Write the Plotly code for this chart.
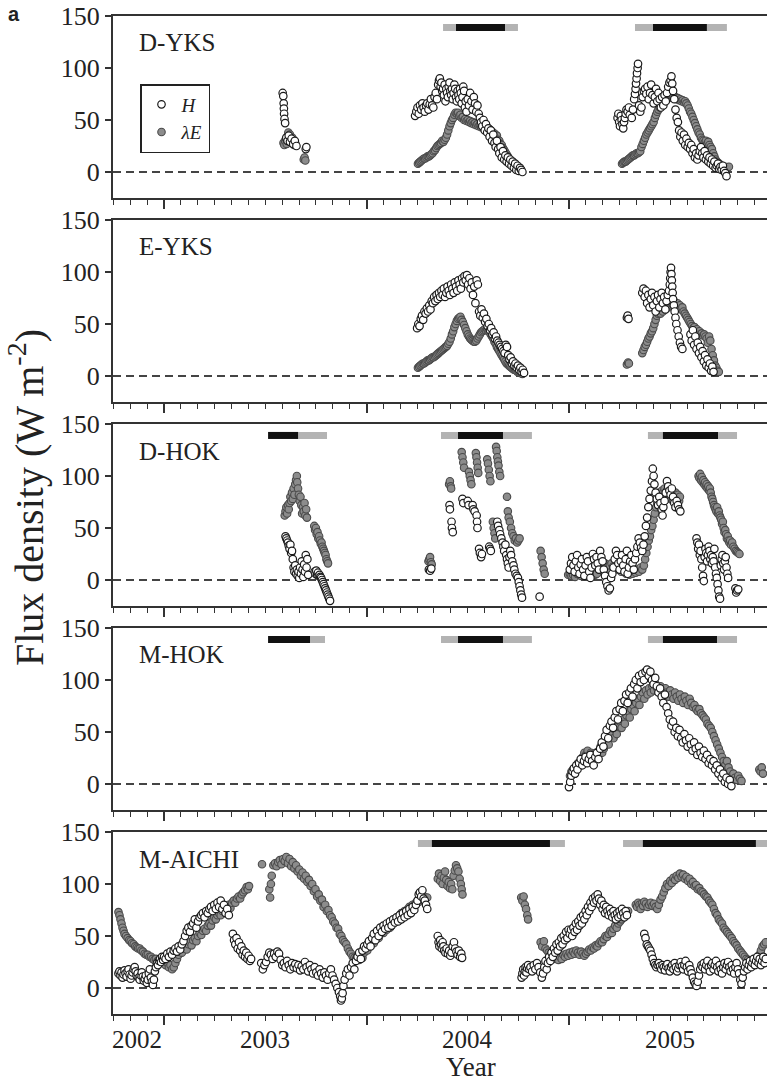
import plotly.graph_objects as go

# ------------------------------------------------------------------ data
PANELS = ["D-YKS", "E-YKS", "D-HOK", "M-HOK", "M-AICHI"]

DYKS_H = [
(2003.586,76),(2003.589,73),(2003.591,66),(2003.592,61),(2003.593,56),(2003.595,51),(2003.598,47),(2003.604,33),(2003.61,30),(2003.616,35),(2003.622,29),(2003.63,32),(2003.638,27),(2003.646,30),(2003.654,25),(2003.70,22),(2003.703,24),
(2004.24,54),(2004.246,58),(2004.252,62),(2004.258,56),(2004.264,64),(2004.27,60),(2004.276,66),(2004.282,62),(2004.288,58),(2004.294,64),(2004.30,66),(2004.306,60),(2004.312,65),(2004.318,70),(2004.324,64),(2004.33,62),(2004.336,72),(2004.342,76),(2004.348,70),(2004.354,84),(2004.358,88),(2004.362,90),(2004.366,82),(2004.37,86),(2004.374,78),(2004.378,80),(2004.382,74),(2004.386,84),(2004.39,68),(2004.394,80),(2004.398,76),(2004.402,72),(2004.406,82),(2004.41,86),(2004.414,78),(2004.418,74),(2004.422,80),(2004.426,70),(2004.43,76),(2004.434,84),(2004.438,80),(2004.442,72),(2004.446,68),(2004.45,78),(2004.454,74),(2004.458,70),(2004.462,80),(2004.466,76),(2004.47,66),(2004.474,72),(2004.478,82),(2004.482,78),(2004.486,62),(2004.49,68),(2004.494,58),(2004.50,70),(2004.506,64),(2004.512,76),(2004.518,68),(2004.524,60),(2004.53,72),(2004.536,66),(2004.542,58),(2004.548,64),(2004.554,56),(2004.56,52),(2004.566,48),(2004.572,44),(2004.578,50),(2004.584,40),(2004.59,46),(2004.596,38),(2004.602,42),(2004.608,34),(2004.614,40),(2004.62,30),(2004.626,36),(2004.632,28),(2004.638,24),(2004.644,30),(2004.65,22),(2004.656,18),(2004.662,24),(2004.668,14),(2004.674,20),(2004.68,12),(2004.686,16),(2004.692,10),(2004.698,14),(2004.704,8),(2004.71,12),(2004.716,6),(2004.722,10),(2004.728,4),(2004.734,8),(2004.74,2),(2004.746,6),(2004.752,1),(2004.758,4),(2004.764,2),(2004.77,0),
(2005.24,52),(2005.244,56),(2005.248,48),(2005.252,44),(2005.256,54),(2005.26,50),(2005.264,46),(2005.268,42),(2005.272,48),(2005.276,52),(2005.28,56),(2005.284,60),(2005.29,58),(2005.296,62),(2005.30,55),(2005.31,52),(2005.316,60),(2005.322,70),(2005.326,75),(2005.329,80),(2005.331,85),(2005.334,90),(2005.336,95),(2005.339,100),(2005.341,104),(2005.346,64),(2005.352,58),(2005.358,62),(2005.364,72),(2005.37,78),(2005.376,80),(2005.382,75),(2005.388,82),(2005.394,70),(2005.40,76),(2005.406,84),(2005.412,74),(2005.418,66),(2005.424,72),(2005.43,80),(2005.436,68),(2005.442,76),(2005.448,70),(2005.454,62),(2005.46,72),(2005.466,64),(2005.472,74),(2005.478,68),(2005.484,76),(2005.49,82),(2005.496,86),(2005.502,88),(2005.506,92),(2005.51,85),(2005.514,78),(2005.52,70),(2005.526,60),(2005.532,52),(2005.538,48),(2005.544,40),(2005.55,34),(2005.556,38),(2005.562,30),(2005.568,36),(2005.574,26),(2005.58,32),(2005.586,24),(2005.592,28),(2005.598,22),(2005.604,26),(2005.61,18),(2005.616,22),(2005.622,14),(2005.628,18),(2005.634,12),(2005.64,16),(2005.646,20),(2005.652,24),(2005.658,18),(2005.664,14),(2005.67,20),(2005.676,12),(2005.682,16),(2005.688,10),(2005.694,14),(2005.70,8),(2005.706,12),(2005.712,6),(2005.718,10),(2005.724,4),(2005.73,6),(2005.736,8),(2005.742,3),(2005.748,5),(2005.754,2),(2005.76,6),(2005.766,1),(2005.772,-1),(2005.778,-4),
]
DYKS_LE = [
(2003.59,28),(2003.594,26),(2003.598,30),(2003.602,32),(2003.606,27),(2003.61,34),(2003.614,38),(2003.618,33),(2003.622,36),(2003.626,30),(2003.63,28),(2003.634,33),(2003.638,30),(2003.642,26),(2003.646,29),(2003.65,27),(2003.69,12),(2003.694,14),(2003.698,11),
(2004.254,8),(2004.26,9),(2004.266,10),(2004.272,11),(2004.278,12),(2004.284,13),(2004.29,13),(2004.296,14),(2004.302,15),(2004.308,15),(2004.314,16),(2004.32,17),(2004.326,18),(2004.332,20),(2004.338,21),(2004.344,23),(2004.35,25),(2004.356,26),(2004.362,27),(2004.368,28),(2004.374,30),(2004.38,29),(2004.386,31),(2004.392,33),(2004.398,36),(2004.404,40),(2004.41,44),(2004.416,47),(2004.422,50),(2004.428,52),(2004.434,55),(2004.44,57),(2004.446,56),(2004.452,57),(2004.458,54),(2004.464,55),(2004.47,52),(2004.476,53),(2004.482,50),(2004.488,51),(2004.494,49),(2004.50,50),(2004.506,48),(2004.512,49),(2004.518,47),(2004.524,48),(2004.53,46),(2004.536,47),(2004.542,45),(2004.548,46),(2004.554,44),(2004.56,45),(2004.566,43),(2004.572,44),(2004.578,42),(2004.584,43),(2004.59,41),(2004.596,43),(2004.602,40),(2004.608,41),(2004.614,38),(2004.62,39),(2004.626,36),(2004.632,37),(2004.638,34),(2004.644,35),(2004.65,31),(2004.656,30),(2004.662,27),(2004.668,26),(2004.674,23),(2004.68,21),(2004.686,19),(2004.692,17),(2004.698,15),(2004.704,13),(2004.71,11),(2004.716,10),(2004.722,9),(2004.728,8),(2004.734,7),(2004.74,6),(2004.746,5),(2004.752,4),(2004.758,3),(2004.764,2),
(2005.262,8),(2005.268,9),(2005.274,10),(2005.28,10),(2005.286,11),(2005.292,12),(2005.298,13),(2005.304,14),(2005.31,15),(2005.316,16),(2005.322,16),(2005.328,17),(2005.334,18),(2005.34,18),(2005.346,19),(2005.352,20),(2005.358,24),(2005.364,27),(2005.37,30),(2005.376,33),(2005.382,36),(2005.388,38),(2005.394,40),(2005.40,42),(2005.406,44),(2005.412,46),(2005.418,48),(2005.424,52),(2005.43,55),(2005.436,58),(2005.442,60),(2005.448,62),(2005.454,64),(2005.46,65),(2005.466,67),(2005.472,68),(2005.478,70),(2005.484,70),(2005.49,71),(2005.496,72),(2005.502,72),(2005.508,73),(2005.514,72),(2005.52,71),(2005.526,72),(2005.532,70),(2005.538,71),(2005.544,69),(2005.55,70),(2005.556,68),(2005.562,69),(2005.568,67),(2005.574,68),(2005.58,66),(2005.586,64),(2005.592,61),(2005.598,58),(2005.604,56),(2005.61,53),(2005.616,50),(2005.622,47),(2005.628,44),(2005.634,41),(2005.64,38),(2005.646,36),(2005.652,33),(2005.658,31),(2005.664,30),(2005.67,28),(2005.676,30),(2005.682,27),(2005.688,29),(2005.694,26),(2005.70,24),(2005.706,22),(2005.712,18),(2005.718,15),(2005.724,12),(2005.73,10),(2005.736,9),(2005.742,8),(2005.748,7),(2005.754,6),(2005.76,5),(2005.766,4),(2005.772,5),(2005.778,3),(2005.784,4),(2005.79,5),
]

EYKS_H = [
(2004.25,46),(2004.256,50),(2004.262,48),(2004.268,55),(2004.274,58),(2004.28,54),(2004.286,62),(2004.292,60),(2004.298,65),(2004.304,62),(2004.31,68),(2004.316,64),(2004.322,72),(2004.328,70),(2004.334,76),(2004.34,72),(2004.346,78),(2004.352,74),(2004.358,80),(2004.364,76),(2004.37,82),(2004.376,78),(2004.382,84),(2004.388,76),(2004.394,80),(2004.40,86),(2004.406,82),(2004.412,78),(2004.418,88),(2004.424,84),(2004.43,80),(2004.436,90),(2004.442,86),(2004.448,82),(2004.454,92),(2004.46,88),(2004.466,84),(2004.472,94),(2004.478,90),(2004.484,96),(2004.49,92),(2004.496,97),(2004.502,88),(2004.508,94),(2004.514,84),(2004.52,90),(2004.526,78),(2004.532,86),(2004.538,70),(2004.544,92),(2004.55,88),(2004.556,62),(2004.562,58),(2004.568,64),(2004.574,56),(2004.58,60),(2004.586,52),(2004.592,55),(2004.598,48),(2004.604,50),(2004.61,44),(2004.616,46),(2004.622,40),(2004.628,42),(2004.634,36),(2004.64,38),(2004.646,34),(2004.652,32),(2004.658,30),(2004.664,28),(2004.67,26),(2004.676,24),(2004.682,22),(2004.688,30),(2004.694,28),(2004.70,20),(2004.706,16),(2004.712,18),(2004.718,12),(2004.724,14),(2004.73,10),(2004.736,12),(2004.742,8),(2004.748,10),(2004.754,6),(2004.76,8),(2004.766,4),(2004.772,6),(2004.778,3),
(2005.286,56),(2005.29,58),(2005.294,55),(2005.362,80),(2005.368,84),(2005.374,76),(2005.38,82),(2005.386,70),(2005.392,78),(2005.398,66),(2005.404,74),(2005.41,80),(2005.416,68),(2005.422,76),(2005.428,62),(2005.434,72),(2005.44,78),(2005.446,66),(2005.452,74),(2005.458,80),(2005.464,70),(2005.47,76),(2005.476,64),(2005.482,72),(2005.488,78),(2005.494,82),(2005.498,88),(2005.50,94),(2005.502,100),(2005.504,104),(2005.506,98),(2005.508,92),(2005.51,86),(2005.512,80),(2005.514,74),(2005.518,68),(2005.522,62),(2005.526,56),(2005.53,50),(2005.536,44),(2005.542,38),(2005.548,32),(2005.554,28),(2005.56,26),(2005.60,40),(2005.606,34),(2005.612,44),(2005.618,30),(2005.624,38),(2005.63,26),(2005.636,32),(2005.642,22),(2005.648,28),(2005.654,18),(2005.66,24),(2005.666,14),(2005.672,20),(2005.678,10),(2005.684,16),(2005.69,8),(2005.696,12),(2005.702,5),(2005.708,9),(2005.714,4),
]
EYKS_LE = [
(2004.254,8),(2004.26,9),(2004.266,10),(2004.272,11),(2004.278,12),(2004.284,12),(2004.29,13),(2004.296,14),(2004.302,15),(2004.308,15),(2004.314,16),(2004.32,17),(2004.326,18),(2004.332,18),(2004.338,19),(2004.344,20),(2004.35,21),(2004.356,22),(2004.362,23),(2004.368,24),(2004.374,25),(2004.38,26),(2004.386,27),(2004.392,28),(2004.398,29),(2004.404,31),(2004.41,33),(2004.416,36),(2004.422,40),(2004.428,43),(2004.434,47),(2004.44,50),(2004.446,53),(2004.452,55),(2004.458,56),(2004.464,57),(2004.47,54),(2004.476,52),(2004.482,49),(2004.488,46),(2004.494,43),(2004.50,40),(2004.506,38),(2004.512,36),(2004.518,35),(2004.524,34),(2004.53,33),(2004.536,33),(2004.542,34),(2004.548,36),(2004.554,38),(2004.56,40),(2004.566,42),(2004.572,43),(2004.578,44),(2004.584,45),(2004.59,44),(2004.596,45),(2004.602,43),(2004.608,42),(2004.614,40),(2004.62,38),(2004.626,36),(2004.632,33),(2004.638,31),(2004.644,28),(2004.65,26),(2004.656,24),(2004.662,22),(2004.668,20),(2004.674,18),(2004.68,16),(2004.686,14),(2004.692,12),(2004.698,11),(2004.704,10),(2004.71,9),(2004.716,8),(2004.722,7),(2004.728,6),(2004.734,6),(2004.74,5),(2004.746,4),(2004.752,4),(2004.758,3),(2004.764,3),(2004.77,2),
(2005.286,11),(2005.292,13),(2005.296,12),(2005.362,22),(2005.368,25),(2005.374,28),(2005.38,30),(2005.386,33),(2005.392,36),(2005.398,38),(2005.404,41),(2005.41,43),(2005.416,46),(2005.422,50),(2005.428,54),(2005.434,58),(2005.44,60),(2005.446,62),(2005.452,60),(2005.458,64),(2005.464,62),(2005.47,66),(2005.476,64),(2005.482,68),(2005.488,66),(2005.494,70),(2005.50,68),(2005.506,71),(2005.512,69),(2005.518,72),(2005.524,70),(2005.53,68),(2005.536,70),(2005.542,66),(2005.548,68),(2005.554,64),(2005.56,66),(2005.566,62),(2005.572,60),(2005.578,58),(2005.584,56),(2005.59,54),(2005.596,52),(2005.602,50),(2005.608,48),(2005.614,46),(2005.62,47),(2005.626,44),(2005.632,45),(2005.638,42),(2005.644,43),(2005.65,40),(2005.656,41),(2005.662,39),(2005.668,40),(2005.674,38),(2005.68,36),(2005.686,32),(2005.692,38),(2005.698,34),(2005.704,26),(2005.71,20),(2005.716,15),(2005.722,10),(2005.728,8),(2005.734,5),(2005.74,4),
]

DHOK_H = [
(2003.60,42),(2003.604,40),(2003.608,38),(2003.612,36),(2003.616,33),(2003.62,30),(2003.624,34),(2003.628,26),(2003.632,28),(2003.636,20),(2003.64,12),(2003.644,8),(2003.648,14),(2003.652,6),(2003.656,10),(2003.66,4),(2003.664,8),(2003.668,2),(2003.672,12),(2003.676,6),(2003.68,18),(2003.684,10),(2003.688,3),(2003.692,15),(2003.696,8),(2003.70,24),(2003.704,12),(2003.708,20),(2003.712,5),(2003.744,8),(2003.748,6),(2003.752,9),(2003.756,5),(2003.76,7),(2003.764,4),(2003.768,5),(2003.772,3),(2003.776,2),(2003.78,0),(2003.784,-2),(2003.788,-4),(2003.792,-6),(2003.796,-8),(2003.80,-10),(2003.804,-12),(2003.808,-14),(2003.812,-16),(2003.816,-18),(2003.82,-20),
(2004.308,10),(2004.314,9),(2004.32,11),
(2004.41,72),(2004.412,68),(2004.42,56),(2004.422,50),(2004.426,46),(2004.474,78),(2004.478,74),(2004.50,76),(2004.504,72),(2004.524,72),(2004.528,68),(2004.534,66),(2004.544,62),(2004.546,56),(2004.548,50),(2004.556,30),(2004.56,26),(2004.566,22),(2004.57,25),(2004.606,32),(2004.61,30),(2004.614,28),(2004.646,56),(2004.65,52),(2004.656,48),(2004.66,44),(2004.666,40),(2004.672,36),(2004.676,32),(2004.68,28),(2004.686,34),(2004.69,24),(2004.694,20),(2004.698,16),(2004.702,12),(2004.706,22),(2004.71,28),(2004.714,24),(2004.72,18),(2004.726,14),(2004.73,10),(2004.736,6),(2004.742,4),(2004.748,2),(2004.752,-2),(2004.756,-6),(2004.76,-10),(2004.764,-14),(2004.768,-17),(2004.855,-16),
(2005.004,10),(2005.01,16),(2005.016,22),(2005.022,14),(2005.028,8),(2005.034,18),(2005.04,24),(2005.046,12),(2005.052,6),(2005.058,15),(2005.064,20),(2005.07,10),(2005.076,4),(2005.082,14),(2005.088,22),(2005.094,18),(2005.10,8),(2005.106,2),(2005.112,12),(2005.118,25),(2005.124,20),(2005.13,14),(2005.136,22),(2005.142,16),(2005.148,10),(2005.154,28),(2005.16,22),(2005.166,18),(2005.172,10),(2005.178,4),(2005.184,-2),(2005.19,-6),(2005.196,-10),(2005.202,-8),(2005.208,2),(2005.214,6),(2005.22,12),(2005.226,20),(2005.232,28),(2005.238,24),(2005.244,16),(2005.25,10),(2005.256,18),(2005.262,24),(2005.268,14),(2005.274,8),(2005.28,20),(2005.286,28),(2005.29,6),(2005.296,12),(2005.302,18),(2005.308,24),(2005.314,16),(2005.32,10),(2005.326,20),(2005.332,26),(2005.338,32),(2005.344,40),(2005.35,36),(2005.356,31),(2005.362,28),(2005.368,34),(2005.374,42),(2005.38,52),(2005.386,60),(2005.392,70),(2005.398,78),(2005.404,86),(2005.41,95),(2005.414,107),(2005.418,100),(2005.422,92),(2005.428,84),(2005.434,78),(2005.44,72),(2005.446,80),(2005.452,74),(2005.458,68),(2005.462,62),(2005.466,70),(2005.472,76),(2005.478,84),(2005.484,95),(2005.49,90),(2005.496,86),(2005.502,82),(2005.508,88),(2005.514,80),(2005.52,74),(2005.526,70),(2005.532,76),(2005.538,72),(2005.544,68),(2005.55,66),
(2005.63,40),(2005.634,36),(2005.638,30),(2005.642,34),(2005.646,24),(2005.65,28),(2005.654,20),(2005.658,12),(2005.662,4),(2005.666,-1),(2005.67,22),(2005.674,30),(2005.678,26),(2005.682,18),(2005.686,24),(2005.69,32),(2005.694,28),(2005.698,20),(2005.702,24),(2005.706,16),(2005.71,22),(2005.714,18),(2005.718,30),(2005.722,12),(2005.726,6),(2005.73,2),(2005.734,-4),(2005.738,-10),(2005.742,-16),(2005.746,-18),(2005.75,14),(2005.754,20),(2005.758,24),(2005.762,16),(2005.766,10),(2005.77,18),(2005.774,22),(2005.778,12),(2005.782,6),(2005.786,2),(2005.822,-8),(2005.826,-12),(2005.83,-10),(2005.836,-9),
]
DHOK_LE = [
(2003.596,62),(2003.60,66),(2003.604,70),(2003.608,64),(2003.612,72),(2003.616,68),(2003.62,74),(2003.624,80),(2003.628,76),(2003.632,84),(2003.636,78),(2003.64,88),(2003.644,82),(2003.648,92),(2003.652,96),(2003.656,100),(2003.658,94),(2003.662,88),(2003.666,82),(2003.67,76),(2003.674,80),(2003.678,72),(2003.682,64),(2003.686,70),(2003.69,66),(2003.694,74),(2003.698,62),(2003.702,68),(2003.706,60),(2003.742,52),(2003.746,48),(2003.75,50),(2003.754,44),(2003.758,46),(2003.762,40),(2003.766,42),(2003.77,38),(2003.774,35),(2003.778,36),(2003.782,32),(2003.786,30),(2003.79,28),(2003.794,26),(2003.798,24),(2003.802,20),(2003.806,18),(2003.81,16),
(2004.306,18),(2004.31,20),(2004.314,22),(2004.318,17),(2004.322,15),
(2004.408,92),(2004.412,95),(2004.416,90),(2004.418,88),(2004.47,123),(2004.474,118),(2004.478,113),(2004.482,108),(2004.506,104),(2004.51,100),(2004.514,96),(2004.518,92),(2004.54,122),(2004.543,118),(2004.546,113),(2004.549,108),(2004.552,103),(2004.596,116),(2004.60,112),(2004.604,106),(2004.608,100),(2004.612,95),(2004.624,56),(2004.628,50),(2004.632,45),(2004.636,40),(2004.64,128),(2004.643,124),(2004.646,118),(2004.649,114),(2004.652,110),(2004.656,104),(2004.66,100),(2004.694,80),(2004.698,66),(2004.702,60),(2004.708,56),(2004.714,50),(2004.72,45),(2004.726,42),(2004.732,38),(2004.738,40),(2004.744,36),(2004.75,38),(2004.756,40),(2004.86,28),(2004.865,22),(2004.87,16),(2004.875,10),(2004.88,6),
(2004.996,5),(2005.004,6),(2005.012,4),(2005.02,5),(2005.03,3),(2005.04,6),(2005.05,5),(2005.06,4),(2005.07,6),(2005.08,4),(2005.09,8),(2005.10,10),(2005.11,6),(2005.12,8),(2005.13,5),(2005.138,6),(2005.146,12),(2005.154,15),(2005.162,10),(2005.17,13),(2005.178,16),(2005.186,12),(2005.194,9),(2005.202,14),(2005.21,16),(2005.218,13),(2005.226,10),(2005.234,14),(2005.242,12),(2005.25,11),(2005.258,8),(2005.266,12),(2005.274,9),(2005.282,6),(2005.29,7),(2005.298,5),(2005.306,8),(2005.314,6),(2005.322,9),(2005.33,7),(2005.338,10),(2005.346,8),(2005.354,12),(2005.362,10),(2005.37,14),(2005.376,20),(2005.382,26),(2005.388,32),(2005.394,38),(2005.40,42),(2005.406,48),(2005.412,52),(2005.418,58),(2005.424,64),(2005.43,70),(2005.436,74),(2005.442,80),(2005.448,84),(2005.454,82),(2005.46,86),(2005.466,84),(2005.472,88),(2005.478,82),(2005.484,86),(2005.49,80),(2005.496,84),(2005.502,78),(2005.508,82),(2005.514,76),(2005.52,80),(2005.526,84),(2005.532,78),(2005.538,82),(2005.544,76),(2005.548,80),
(2005.64,100),(2005.644,98),(2005.648,102),(2005.652,96),(2005.656,99),(2005.66,94),(2005.664,96),(2005.668,92),(2005.672,94),(2005.676,90),(2005.68,92),(2005.684,88),(2005.688,90),(2005.692,86),(2005.696,88),(2005.70,84),(2005.704,80),(2005.708,78),(2005.712,75),(2005.716,72),(2005.72,70),(2005.724,68),(2005.728,66),(2005.732,70),(2005.736,64),(2005.74,66),(2005.744,62),(2005.748,60),(2005.752,58),(2005.756,54),(2005.76,56),(2005.764,50),(2005.768,46),(2005.772,48),(2005.776,44),(2005.78,40),(2005.784,42),(2005.788,38),(2005.792,36),(2005.796,38),(2005.80,34),(2005.806,36),(2005.812,32),(2005.818,30),(2005.824,28),(2005.83,27),(2005.836,26),(2005.842,25),
]

MHOK_H = [
(2005.0,-3),(2005.006,2),(2005.012,8),(2005.018,12),(2005.024,15),(2005.03,10),(2005.036,18),(2005.042,14),(2005.05,20),(2005.058,24),(2005.066,18),(2005.074,22),(2005.082,26),(2005.09,20),(2005.098,24),(2005.106,28),(2005.114,22),(2005.122,18),(2005.13,26),(2005.138,30),(2005.146,24),(2005.154,34),(2005.162,40),(2005.17,36),(2005.178,46),(2005.186,52),(2005.194,44),(2005.202,56),(2005.21,60),(2005.218,54),(2005.226,64),(2005.234,70),(2005.242,62),(2005.25,72),(2005.258,78),(2005.266,70),(2005.274,80),(2005.282,86),(2005.29,78),(2005.298,88),(2005.306,92),(2005.314,84),(2005.322,96),(2005.33,100),(2005.338,92),(2005.346,104),(2005.354,98),(2005.362,106),(2005.37,100),(2005.378,108),(2005.386,110),(2005.394,104),(2005.402,108),(2005.41,100),(2005.418,96),(2005.426,102),(2005.434,94),(2005.442,88),(2005.45,92),(2005.458,84),(2005.466,78),(2005.474,86),(2005.482,74),(2005.49,68),(2005.498,62),(2005.506,56),(2005.514,60),(2005.522,50),(2005.53,54),(2005.538,46),(2005.546,52),(2005.554,44),(2005.562,40),(2005.57,48),(2005.578,42),(2005.586,36),(2005.594,44),(2005.602,38),(2005.61,32),(2005.618,40),(2005.626,34),(2005.634,28),(2005.642,36),(2005.65,30),(2005.658,26),(2005.666,32),(2005.674,24),(2005.682,28),(2005.69,20),(2005.698,24),(2005.706,18),(2005.714,22),(2005.722,14),(2005.73,18),(2005.738,10),(2005.746,14),(2005.754,6),(2005.762,10),(2005.77,2),(2005.778,6),(2005.786,0),(2005.794,4),(2005.802,-2),
]
MHOK_LE = [
(2005.005,8),(2005.012,12),(2005.02,14),(2005.028,10),(2005.036,16),(2005.044,20),(2005.052,18),(2005.06,22),(2005.068,26),(2005.076,30),(2005.084,28),(2005.092,32),(2005.10,26),(2005.108,30),(2005.116,28),(2005.124,24),(2005.132,30),(2005.14,26),(2005.148,32),(2005.156,36),(2005.164,30),(2005.172,34),(2005.18,40),(2005.188,44),(2005.196,38),(2005.204,46),(2005.212,50),(2005.22,44),(2005.228,52),(2005.236,48),(2005.244,56),(2005.252,60),(2005.26,54),(2005.268,62),(2005.276,58),(2005.284,66),(2005.292,70),(2005.30,64),(2005.308,72),(2005.316,76),(2005.324,70),(2005.332,78),(2005.34,82),(2005.348,76),(2005.356,84),(2005.364,88),(2005.372,82),(2005.38,90),(2005.388,86),(2005.396,92),(2005.404,88),(2005.412,94),(2005.42,90),(2005.428,96),(2005.436,92),(2005.444,88),(2005.452,94),(2005.46,90),(2005.468,86),(2005.476,92),(2005.484,88),(2005.492,84),(2005.50,90),(2005.508,86),(2005.516,82),(2005.524,88),(2005.532,84),(2005.54,80),(2005.548,86),(2005.556,82),(2005.564,78),(2005.572,84),(2005.58,80),(2005.588,76),(2005.596,82),(2005.604,78),(2005.612,74),(2005.62,76),(2005.628,72),(2005.636,70),(2005.644,72),(2005.652,68),(2005.66,66),(2005.668,64),(2005.676,62),(2005.684,58),(2005.692,56),(2005.70,54),(2005.708,50),(2005.716,46),(2005.724,42),(2005.732,38),(2005.74,34),(2005.748,30),(2005.756,26),(2005.764,22),(2005.772,18),(2005.78,22),(2005.788,16),(2005.796,12),(2005.804,8),(2005.812,10),(2005.82,6),(2005.828,4),(2005.836,8),(2005.844,5),(2005.852,3),(2005.94,14),(2005.946,12),(2005.952,16),(2005.958,10),
]

MAICHI_H = [
(2002.775,14),(2002.78,16),(2002.785,12),(2002.79,15),(2002.795,10),(2002.80,13),(2002.805,17),(2002.81,14),(2002.815,11),(2002.82,16),(2002.825,18),(2002.83,13),(2002.835,9),(2002.84,12),(2002.845,15),(2002.85,18),(2002.855,20),(2002.86,16),(2002.865,12),(2002.87,14),(2002.875,10),(2002.88,8),(2002.885,12),(2002.89,15),(2002.895,11),(2002.90,7),(2002.905,9),(2002.91,12),(2002.915,5),(2002.92,8),(2002.925,14),(2002.93,18),(2002.935,10),(2002.94,6),(2002.945,3),(2002.95,8),(2002.955,16),(2002.96,20),(2002.965,24),(2002.97,22),(2002.975,26),(2002.98,28),(2002.985,25),(2002.99,30),(2002.995,27),
(2003.0,30),(2003.008,28),(2003.016,33),(2003.024,30),(2003.032,35),(2003.04,32),(2003.048,36),(2003.056,38),(2003.064,35),(2003.072,40),(2003.08,37),(2003.088,42),(2003.096,45),(2003.104,50),(2003.112,55),(2003.12,58),(2003.128,54),(2003.136,60),(2003.144,62),(2003.152,66),(2003.16,58),(2003.168,64),(2003.176,68),(2003.184,70),(2003.192,72),(2003.20,68),(2003.208,74),(2003.216,72),(2003.224,76),(2003.232,78),(2003.24,74),(2003.248,80),(2003.256,76),(2003.264,82),(2003.272,78),(2003.28,84),(2003.288,76),(2003.296,80),(2003.304,72),(2003.312,76),(2003.32,70),
(2003.34,52),(2003.346,46),(2003.352,42),(2003.358,48),(2003.364,38),(2003.37,44),(2003.376,36),(2003.382,40),(2003.388,32),(2003.394,36),(2003.40,30),(2003.406,34),(2003.412,28),(2003.418,31),(2003.424,26),(2003.43,28),
(2003.48,24),(2003.488,18),(2003.496,22),(2003.504,25),(2003.512,30),(2003.52,34),(2003.528,32),(2003.536,28),(2003.544,33),(2003.552,30),(2003.56,35),(2003.568,33),(2003.576,27),(2003.584,22),(2003.592,24),(2003.60,20),(2003.608,26),(2003.616,22),(2003.624,18),(2003.632,24),(2003.64,20),(2003.648,23),(2003.656,19),(2003.664,22),(2003.672,17),(2003.68,21),(2003.688,18),(2003.696,25),(2003.704,20),(2003.712,16),(2003.72,22),(2003.728,18),(2003.736,14),(2003.744,20),(2003.752,15),(2003.76,12),(2003.768,18),(2003.776,14),(2003.784,10),(2003.792,15),(2003.80,12),(2003.808,8),(2003.816,14),(2003.824,18),(2003.832,12),(2003.84,8),(2003.848,4),(2003.856,0),(2003.864,-4),(2003.87,-8),(2003.874,-12),(2003.878,-10),(2003.882,-5),(2003.886,2),(2003.892,8),(2003.90,14),(2003.908,18),(2003.916,12),(2003.924,20),(2003.932,24),(2003.94,18),(2003.948,26),(2003.956,30),(2003.964,34),(2003.972,28),(2003.98,36),(2003.988,40),(2003.996,38),
(2004.004,42),(2004.012,45),(2004.02,40),(2004.028,48),(2004.036,52),(2004.044,46),(2004.052,55),(2004.06,50),(2004.068,58),(2004.076,54),(2004.084,60),(2004.092,57),(2004.10,62),(2004.108,58),(2004.116,64),(2004.124,60),(2004.132,66),(2004.14,63),(2004.148,68),(2004.156,64),(2004.164,70),(2004.172,66),(2004.18,72),(2004.188,68),(2004.196,74),(2004.204,70),(2004.212,76),(2004.22,72),(2004.228,78),(2004.236,75),(2004.244,80),(2004.252,84),(2004.258,90),(2004.264,92),(2004.27,88),(2004.276,94),(2004.282,86),(2004.288,84),(2004.294,80),(2004.30,76),
(2004.352,50),(2004.356,44),(2004.36,40),(2004.364,46),(2004.368,42),(2004.372,38),(2004.376,44),(2004.38,40),(2004.384,36),(2004.39,34),(2004.396,38),(2004.402,33),(2004.408,36),(2004.414,31),(2004.42,34),(2004.426,40),(2004.432,44),(2004.438,38),(2004.444,35),(2004.45,32),(2004.456,36),(2004.462,30),(2004.468,33),(2004.472,29),
(2004.766,10),(2004.77,14),(2004.774,18),(2004.778,12),(2004.782,16),(2004.786,20),(2004.79,15),(2004.794,19),(2004.798,22),(2004.804,18),(2004.81,20),(2004.818,16),(2004.826,22),(2004.834,18),(2004.842,24),(2004.85,20),(2004.858,15),(2004.866,10),(2004.872,14),(2004.878,20),(2004.884,26),(2004.89,18),(2004.896,24),(2004.902,30),(2004.908,26),(2004.914,34),(2004.92,30),(2004.926,38),(2004.932,34),(2004.938,42),(2004.944,36),(2004.95,44),(2004.956,40),(2004.962,48),(2004.968,42),(2004.974,50),(2004.98,46),(2004.986,54),(2004.992,48),(2004.998,56),
(2005.004,52),(2005.01,56),(2005.016,50),(2005.022,58),(2005.028,54),(2005.034,62),(2005.04,56),(2005.046,64),(2005.052,60),(2005.058,68),(2005.064,62),(2005.07,70),(2005.076,66),(2005.082,74),(2005.088,70),(2005.094,78),(2005.10,74),(2005.106,82),(2005.112,78),(2005.118,86),(2005.124,82),(2005.13,88),(2005.136,84),(2005.142,90),(2005.148,86),(2005.154,80),(2005.16,84),(2005.166,76),(2005.172,80),(2005.178,72),(2005.184,78),(2005.19,74),(2005.196,70),(2005.202,76),(2005.208,72),(2005.214,68),(2005.22,74),(2005.226,70),(2005.232,66),(2005.238,72),(2005.244,68),(2005.25,74),(2005.256,70),(2005.262,76),(2005.268,72),(2005.274,68),(2005.28,74),(2005.286,70),
(2005.372,52),(2005.378,48),(2005.384,42),(2005.39,40),(2005.396,38),(2005.402,36),(2005.408,32),(2005.414,28),(2005.42,24),(2005.426,22),(2005.432,20),(2005.438,22),(2005.444,24),(2005.45,21),(2005.456,18),(2005.462,22),(2005.468,20),(2005.474,17),(2005.48,21),(2005.486,23),(2005.492,19),(2005.498,16),(2005.504,20),(2005.51,22),(2005.516,18),(2005.522,24),(2005.528,20),(2005.534,16),(2005.54,19),(2005.546,22),(2005.552,25),(2005.558,21),(2005.564,18),(2005.57,22),(2005.576,26),(2005.582,20),(2005.588,16),(2005.594,22),(2005.60,18),(2005.606,14),(2005.612,10),(2005.618,6),(2005.624,4),(2005.63,2),(2005.636,6),(2005.642,12),(2005.648,18),(2005.654,22),(2005.66,20),(2005.666,24),(2005.672,18),(2005.678,22),(2005.684,26),(2005.69,20),(2005.696,16),(2005.702,22),(2005.708,24),(2005.714,18),(2005.72,22),(2005.726,26),(2005.732,20),(2005.738,16),(2005.744,22),(2005.75,18),(2005.756,14),(2005.762,20),(2005.768,24),(2005.774,18),(2005.78,22),(2005.786,25),(2005.792,20),(2005.798,16),(2005.804,22),(2005.81,18),(2005.816,14),(2005.822,20),(2005.828,24),(2005.834,18),(2005.84,14),(2005.846,8),(2005.852,4),(2005.858,10),(2005.864,16),(2005.87,20),(2005.876,24),(2005.882,18),(2005.888,22),(2005.894,26),(2005.90,20),(2005.906,24),(2005.912,28),(2005.918,22),(2005.924,26),(2005.93,30),(2005.936,24),(2005.942,28),(2005.948,22),(2005.954,26),(2005.96,30),(2005.966,24),(2005.972,28),
]
MAICHI_LE = [
(2002.775,73),(2002.78,70),(2002.785,66),(2002.79,62),(2002.795,58),(2002.80,55),(2002.805,52),(2002.812,50),(2002.82,48),(2002.828,46),(2002.835,45),(2002.842,43),(2002.85,42),(2002.858,40),(2002.865,39),(2002.872,38),(2002.88,38),(2002.888,36),(2002.896,35),(2002.904,33),(2002.912,32),(2002.92,32),(2002.928,30),(2002.936,30),(2002.944,28),(2002.952,27),(2002.96,28),(2002.968,26),(2002.976,25),(2002.984,24),(2002.992,26),
(2003.0,25),(2003.008,22),(2003.016,24),(2003.024,20),(2003.032,22),(2003.04,18),(2003.048,20),(2003.056,24),(2003.064,28),(2003.072,32),(2003.08,35),(2003.088,34),(2003.096,38),(2003.104,40),(2003.112,37),(2003.12,42),(2003.128,44),(2003.136,41),(2003.144,46),(2003.152,48),(2003.16,45),(2003.168,50),(2003.176,53),(2003.184,51),(2003.192,55),(2003.20,57),(2003.208,55),(2003.216,60),(2003.224,62),(2003.232,60),(2003.24,65),(2003.248,68),(2003.256,66),(2003.264,70),(2003.272,72),(2003.28,70),(2003.288,74),(2003.296,76),(2003.304,73),(2003.312,78),(2003.32,80),(2003.328,77),(2003.336,82),(2003.344,84),(2003.352,82),(2003.36,86),(2003.368,88),(2003.376,86),(2003.384,90),(2003.392,92),(2003.40,94),(2003.408,97),(2003.414,95),(2003.42,98),
(2003.484,119),
(2003.52,95),(2003.524,87),(2003.528,100),(2003.532,108),(2003.54,118),(2003.548,120),(2003.556,117),(2003.564,121),(2003.572,123),(2003.58,119),(2003.588,124),(2003.596,122),(2003.604,126),(2003.612,120),(2003.62,124),(2003.628,117),(2003.636,121),(2003.644,115),(2003.652,118),(2003.66,112),(2003.668,114),(2003.676,108),(2003.684,111),(2003.692,105),(2003.70,108),(2003.708,102),(2003.716,104),(2003.724,98),(2003.732,100),(2003.74,93),(2003.748,95),(2003.756,88),(2003.764,90),(2003.772,84),(2003.78,85),(2003.788,78),(2003.796,80),(2003.804,74),(2003.812,75),(2003.82,70),(2003.828,68),(2003.836,64),(2003.844,62),(2003.852,58),(2003.86,57),(2003.868,52),(2003.876,50),(2003.884,46),(2003.892,44),(2003.90,42),(2003.908,38),(2003.916,35),(2003.924,33),(2003.932,30),(2003.94,29),(2003.948,28),(2003.956,30),(2003.964,27),(2003.972,31),(2003.98,29),(2003.988,34),(2003.996,38),
(2004.004,36),(2004.012,40),(2004.02,42),(2004.028,45),(2004.036,43),(2004.044,48),(2004.052,50),(2004.06,48),(2004.068,52),(2004.076,55),(2004.084,53),(2004.092,57),(2004.10,56),(2004.108,60),(2004.116,58),(2004.124,62),(2004.132,65),(2004.14,63),(2004.148,67),(2004.156,66),(2004.164,70),(2004.172,72),(2004.18,71),(2004.188,74),(2004.196,73),(2004.204,76),(2004.212,78),(2004.22,76),(2004.228,80),(2004.236,79),(2004.244,82),(2004.252,84),(2004.26,83),(2004.268,86),(2004.276,85),(2004.284,88),(2004.292,86),(2004.30,87),
(2004.352,105),(2004.358,110),(2004.364,103),(2004.37,108),(2004.376,100),(2004.382,106),(2004.388,112),(2004.394,104),(2004.40,98),(2004.406,102),(2004.412,96),(2004.418,100),(2004.424,95),(2004.43,108),(2004.436,113),(2004.442,118),(2004.448,115),(2004.454,112),(2004.46,105),(2004.466,100),(2004.47,95),(2004.474,90),
(2004.764,87),(2004.77,84),(2004.776,88),(2004.782,80),(2004.788,76),(2004.794,70),(2004.798,66),
(2004.86,44),(2004.868,40),(2004.876,45),(2004.884,38),(2004.892,36),(2004.90,34),(2004.908,32),(2004.916,30),(2004.924,31),(2004.932,28),(2004.94,29),(2004.948,27),(2004.956,30),(2004.964,28),(2004.972,32),(2004.98,30),(2004.988,33),(2004.996,31),(2005.004,34),(2005.012,32),(2005.02,35),(2005.028,33),(2005.036,36),(2005.044,34),(2005.052,32),(2005.06,35),(2005.068,33),(2005.076,31),(2005.084,33),(2005.092,35),(2005.10,37),(2005.108,36),(2005.116,39),(2005.124,38),(2005.132,41),(2005.14,40),(2005.148,43),(2005.156,45),(2005.164,44),(2005.172,47),(2005.18,50),(2005.188,49),(2005.196,52),(2005.204,55),(2005.212,53),(2005.22,57),(2005.228,60),(2005.236,58),(2005.244,62),(2005.252,64),(2005.26,66),(2005.268,68),(2005.276,70),(2005.284,72),(2005.292,74),
(2005.33,80),(2005.336,78),(2005.342,82),(2005.348,80),(2005.354,76),(2005.36,81),(2005.366,79),(2005.372,83),(2005.38,81),(2005.388,78),(2005.396,80),(2005.404,82),(2005.412,79),(2005.42,81),(2005.428,78),(2005.436,76),(2005.444,80),(2005.452,85),(2005.46,88),(2005.468,92),(2005.476,96),(2005.484,100),(2005.492,98),(2005.50,103),(2005.508,101),(2005.516,106),(2005.524,104),(2005.532,108),(2005.54,106),(2005.548,110),(2005.556,107),(2005.564,109),(2005.572,105),(2005.58,107),(2005.588,103),(2005.596,105),(2005.604,100),(2005.612,102),(2005.62,98),(2005.628,99),(2005.636,95),(2005.644,96),(2005.652,93),(2005.66,92),(2005.668,90),(2005.676,88),(2005.684,87),(2005.692,84),(2005.70,82),(2005.708,80),(2005.716,76),(2005.724,72),(2005.732,70),(2005.74,66),(2005.748,64),(2005.756,62),(2005.764,58),(2005.772,56),(2005.78,54),(2005.788,52),(2005.796,50),(2005.804,48),(2005.812,45),(2005.82,43),(2005.828,41),(2005.836,38),(2005.844,36),(2005.852,34),(2005.86,32),(2005.868,30),(2005.876,28),(2005.884,27),(2005.892,25),(2005.90,24),(2005.908,23),(2005.916,24),(2005.924,26),(2005.932,28),(2005.94,32),(2005.948,36),(2005.956,40),(2005.964,42),(2005.972,44),
]

# growing-season bars: (gray start, black start, black end, gray end)
DYKS_SEASONS = [(2004.378, 2004.442, 2004.684, 2004.748), (2005.326, 2005.415, 2005.681, 2005.780)]
EYKS_SEASONS = []
DHOK_SEASONS = [(2003.514, 2003.514, 2003.662, 2003.805), (2004.368, 2004.452, 2004.674, 2004.817), (2005.390, 2005.464, 2005.736, 2005.830)]
MHOK_SEASONS = [(2003.514, 2003.514, 2003.721, 2003.795), (2004.368, 2004.452, 2004.674, 2004.817), (2005.390, 2005.464, 2005.731, 2005.830)]
MAICHI_SEASONS = [(2004.254, 2004.323, 2004.906, 2004.980), (2005.267, 2005.365, 2005.923, 2005.978)]

YEAR_LABELS = ["2002", "2003", "2004", "2005"]
YEAR_LABEL_POS = [2002.865, 2003.5, 2004.5, 2005.5]
Y_TICKS = [0, 50, 100, 150]
X_RANGE = [2002.748, 2005.978]
Y_RANGE = [-25, 150]

# ------------------------------------------------------------------ layout constants
W, H = 767, 1083
ML, MR, MT, MB = 113, 0, 16, 69
PH = H - MT - MB           # plot area height
PANEL_TOPS = [16, 220, 424, 628, 832]
PANEL_H = 182
SERIF = "Liberation Serif"
AXC = "#333333"

H_DATA = [DYKS_H, EYKS_H, DHOK_H, MHOK_H, MAICHI_H]
LE_DATA = [DYKS_LE, EYKS_LE, DHOK_LE, MHOK_LE, MAICHI_LE]
SEASONS = [DYKS_SEASONS, EYKS_SEASONS, DHOK_SEASONS, MHOK_SEASONS, MAICHI_SEASONS]


def ypaper(py):
    return (H - MB - py) / PH


def xpaper(px):
    return (px - ML) / (W - ML - MR)


fig = go.Figure()
layout = {}
shapes = []
annotations = []

for i, name in enumerate(PANELS):
    k = i + 1
    sfx = "" if k == 1 else str(k)
    xa, ya = "x" + sfx, "y" + sfx
    lx, ly = list(zip(*LE_DATA[i]))
    hx, hy = list(zip(*H_DATA[i]))
    fig.add_trace(go.Scatter(
        x=lx, y=ly, mode="markers", xaxis=xa, yaxis=ya,
        name="<i>λE</i>", legendgroup="le", showlegend=(i == 0), legendrank=2,
        marker=dict(size=7.5, color="#8c8c8c", line=dict(color="#4a4a4a", width=1.1)),
    ))
    fig.add_trace(go.Scatter(
        x=hx, y=hy, mode="markers", xaxis=xa, yaxis=ya,
        name="<i>H</i>", legendgroup="h", showlegend=(i == 0), legendrank=1,
        marker=dict(size=7.5, color="white", line=dict(color="#1a1a1a", width=1.2)),
    ))

    top = PANEL_TOPS[i]
    layout["xaxis" + sfx] = dict(
        domain=[0, 1], anchor=ya, range=X_RANGE, showgrid=False, zeroline=False,
        showline=True, linecolor=AXC, linewidth=2, mirror=True,
        tickmode="array", tickvals=[2003, 2004, 2005], ticks="outside", ticklen=9,
        tickwidth=1.5, tickcolor=AXC, showticklabels=False,
        minor=dict(dtick=1 / 12, tick0=2002.75, ticks="outside", ticklen=5,
                   tickwidth=1.3, tickcolor=AXC, showgrid=False),
    )
    layout["yaxis" + sfx] = dict(
        domain=[ypaper(top + PANEL_H), ypaper(top)], anchor=xa, range=Y_RANGE,
        showgrid=False, zeroline=False, showline=True, linecolor=AXC, linewidth=2,
        tickmode="array", tickvals=Y_TICKS, ticks="outside", ticklen=6, tickwidth=1.5,
        tickcolor=AXC, tickfont=dict(family=SERIF, size=26, color="#222"),
    )

    # dashed zero line
    shapes.append(dict(type="line", xref=xa + " domain", yref=ya, x0=0, x1=1, y0=0, y1=0,
                       line=dict(color="#444", width=1.8, dash="8px,5px"), layer="below"))
    # season bars
    for g0, b0, b1, g1 in SEASONS[i]:
        shapes.append(dict(type="line", xref=xa, yref=ya, x0=g0, x1=g1, y0=139, y1=139,
                           line=dict(color="#b3b3b3", width=7)))
        shapes.append(dict(type="line", xref=xa, yref=ya, x0=b0, x1=b1, y0=139, y1=139,
                           line=dict(color="#111", width=7)))
    # panel title
    annotations.append(dict(text=name, xref="paper", yref="paper", x=xpaper(137), y=ypaper(top + 27),
                            xanchor="left", yanchor="middle", showarrow=False,
                            font=dict(family=SERIF, size=25, color="#222")))

# year labels under the bottom panel
for lab, pos in zip(YEAR_LABELS, YEAR_LABEL_POS):
    annotations.append(dict(text=lab, xref="x5", yref="paper", x=pos, y=ypaper(1039),
                            xanchor="center", yanchor="middle", showarrow=False,
                            font=dict(family=SERIF, size=25, color="#222")))

annotations.append(dict(text="Year", xref="paper", yref="paper", x=xpaper(471), y=ypaper(1067),
                        xanchor="center", yanchor="middle", showarrow=False,
                        font=dict(family=SERIF, size=27, color="#222")))
annotations.append(dict(text="Flux density (W m<sup>-2</sup>)", xref="paper", yref="paper",
                        x=xpaper(26), y=ypaper(498), textangle=-90, xanchor="center", yanchor="middle",
                        showarrow=False, font=dict(family=SERIF, size=40, color="#222")))
annotations.append(dict(text="<b>a</b>", xref="paper", yref="paper", x=xpaper(14), y=ypaper(14),
                        xanchor="center", yanchor="middle", showarrow=False,
                        font=dict(family="Liberation Sans", size=20, color="#222")))

fig.update_layout(
    width=W, height=H, margin=dict(l=ML, r=MR, t=MT, b=MB),
    paper_bgcolor="white", plot_bgcolor="white",
    shapes=shapes, annotations=annotations,
    legend=dict(x=xpaper(140), y=ypaper(84), xanchor="left", yanchor="top",
                bgcolor="white", bordercolor="#222", borderwidth=1.5,
                font=dict(family=SERIF, size=19, color="#222"),
                itemwidth=30, tracegroupgap=0),
    **layout,
)

fig.write_html(
    "out.html",
    config={"displayModeBar": False},
    post_script="document.body.style.margin='0px';document.body.style.overflow='hidden';",
)
